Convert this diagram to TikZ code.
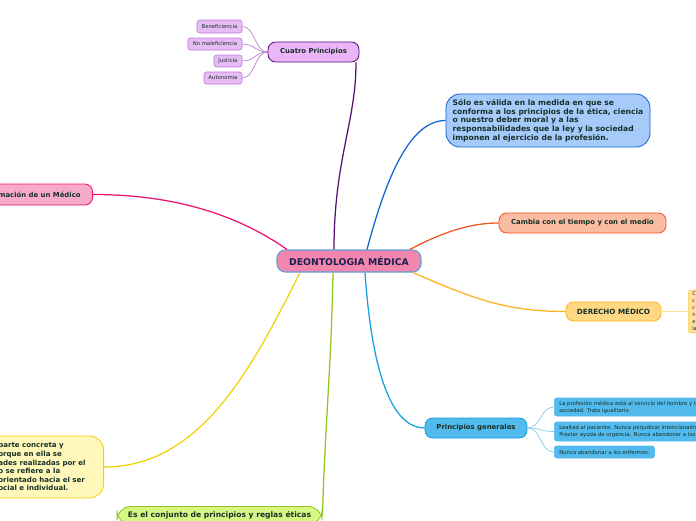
\documentclass[tikz,border=0pt]{standalone}
\usepackage{fontspec}
\setmainfont{DejaVu Sans}
\usetikzlibrary{calc}
\definecolor{ink}{RGB}{22,48,40}
\definecolor{rootink}{RGB}{28,30,80}
\definecolor{rootfill}{RGB}{242,134,174}
\definecolor{rootline}{RGB}{100,160,215}
\definecolor{cpfill}{RGB}{234,182,248}
\definecolor{cpline}{RGB}{88,18,112}
\definecolor{cpleaf}{RGB}{231,188,246}
\definecolor{cpleafline}{RGB}{190,125,212}
\definecolor{solofill}{RGB}{166,202,250}
\definecolor{sololine}{RGB}{20,100,210}
\definecolor{camfill}{RGB}{250,188,162}
\definecolor{camline}{RGB}{240,84,34}
\definecolor{derfill}{RGB}{255,216,132}
\definecolor{derline}{RGB}{252,178,30}
\definecolor{derleaf}{RGB}{255,224,152}
\definecolor{derleafline}{RGB}{250,204,90}
\definecolor{pgfill}{RGB}{82,186,236}
\definecolor{pgline}{RGB}{22,160,226}
\definecolor{pgtwig}{RGB}{128,204,242}
\definecolor{formfill}{RGB}{248,170,202}
\definecolor{formline}{RGB}{236,22,112}
\definecolor{yelfill}{RGB}{255,248,186}
\definecolor{yelline}{RGB}{240,210,10}
\definecolor{grfill}{RGB}{216,246,132}
\definecolor{grline}{RGB}{146,196,34}
\tikzset{
  rootbox/.style={draw=rootline, fill=rootfill, rounded corners=6pt, line width=0.8pt,
                  minimum width=3.6cm, minimum height=0.55cm, inner sep=0pt,
                  font=\fontsize{6.6}{7.5}\selectfont\bfseries, text=rootink},
  topic/.style={rounded corners=5.5pt, line width=0.6pt, inner sep=0pt, minimum height=0.5cm,
                font=\fontsize{4.9}{5.8}\selectfont\bfseries, text=ink},
  leaf/.style={rounded corners=1.8pt, line width=0.4pt, inner sep=0pt,
               font=\fontsize{3.8}{5}\selectfont, text=ink},
  para/.style={rounded corners=10pt, line width=0.6pt, align=left, inner ysep=0pt,
               font=\fontsize{5.4}{6.2}\selectfont\bfseries, text=ink},
  branch/.style={line width=0.9pt},
  twig/.style={line width=0.5pt},
}
\begin{document}
\begin{tikzpicture}[x=0.025cm, y=-0.025cm]
  \useasboundingbox (0,0) rectangle (696,520);
  \clip (0,0) rectangle (696,520);
  % centre
  \node[rootbox] (deo) at (349,261) {DEONTOLOGIA MÉDICA};
  % four principles
  \node[topic, draw=cpline, fill=cpfill, minimum width=2.275cm] (cuatro) at (313.5,52) {Cuatro Principios};
  \node[leaf, draw=cpleafline, fill=cpleaf, minimum width=1.125cm, minimum height=0.325cm] (benef) at (219.5,26.5) {Beneficiencia};
  \node[leaf, draw=cpleafline, fill=cpleaf, minimum width=1.35cm, minimum height=0.3cm] (nomal) at (215,44) {No maleficiencia};
  \node[leaf, draw=cpleafline, fill=cpleaf, minimum width=0.7cm, minimum height=0.3cm] (just) at (228,61) {Justicia};
  \node[leaf, draw=cpleafline, fill=cpleaf, minimum width=0.95cm, minimum height=0.3cm] (auton) at (223,78) {Autonomia};
  \foreach \n in {benef,nomal,just,auton}
    \draw[twig, cpleafline] (cuatro.west) .. controls +(-13,0) and +(13,0) .. (\n.east);
  \draw[branch, cpline] ($(deo.north)+(-15,0)$) .. controls +(0,-90) and +(0,60) .. ($(cuatro.south)+(42.5,0)$);
  % only valid
  \node[para, draw=sololine, fill=solofill, minimum width=5.1cm,
        minimum height=1.325cm] (solo) at (548,120.5)
       {Sólo es válida en la medida en que se\\
        conforma a los principios de la ética, ciencia\\
        o nuestro deber moral y a las\\
        responsabilidades que la ley y la sociedad\\
        imponen al ejercicio de la profesión.};
  \draw[branch, sololine] ($(deo.north)+(18,0)$) .. controls +(20,-75) and +(-35,0) .. (solo.west);
  % changes
  \node[topic, draw=camline, fill=camfill, minimum width=4.175cm] (cambia) at (582.5,223) {Cambia con el tiempo y con el medio};
  \draw[branch, camline] ($(deo.north)+(61,0)$) .. controls +(30,-16) and +(-30,0) .. (cambia.west);
  % medical law
  \node[topic, draw=derline, fill=derfill, minimum width=2.375cm, minimum height=0.475cm,
        font=\fontsize{5.1}{6}\selectfont\bfseries] (derecho) at (613.5,311.5) {DERECHO MÉDICO};
  \node[leaf, draw=derleafline, fill=derleaf, anchor=west, minimum height=1.075cm,
        inner xsep=0.1cm, text width=2.3cm, align=left, font=\fontsize{3.6}{5}\selectfont] (derdef) at (688,311.5)
       {C\\c\\c\\n\\e\\la};
  \draw[twig, derleaf] (derecho.east) -- (derdef.west);
  \draw[branch, derline] ($(deo.south)+(64,0)$) .. controls +(60,26) and +(-60,0) .. (derecho.west);
  % general principles
  \node[topic, draw=pgline, fill=pgfill, minimum width=2.55cm] (princ) at (476,428) {Principios generales};
  \node[leaf, draw=pgfill, fill=pgfill, anchor=west, minimum height=0.45cm, inner xsep=0.125cm,
        align=left] (servicio) at (554,407)
       {La profesión médica está al servicio del hombre y la\\sociedad. Trato igualitario.};
  \node[leaf, draw=pgfill, fill=pgfill, anchor=west, minimum height=0.475cm, inner xsep=0.125cm,
        align=left] (lealtad) at (554,431.5)
       {Lealtad al paciente. Nunca perjudicar intencionalmente.\\Prestar ayuda de urgencia. Nunca abandonar a los};
  \node[leaf, draw=pgfill, fill=pgfill, anchor=west, minimum height=0.3cm,
        inner xsep=0.125cm] (nunca) at (554,452) {Nunca abandonar a los enfermos.};
  \foreach \n in {servicio,lealtad,nunca}
    \draw[twig, pgtwig] (princ.east) .. controls +(14,0) and +(-14,0) .. (\n.west);
  \draw[branch, pgline] ($(deo.south)+(16,0)$) .. controls +(8,115) and +(-28,0) .. (princ.west);
  % training
  \node[topic, draw=formline, fill=formfill, minimum height=0.525cm, anchor=east,
        inner xsep=0.3cm] (formacion) at (93,194.5) {mación de un Médico};
  \draw[branch, formline] ($(deo.north)+(-62,0)$) .. controls +(-60,-42) and +(65,0) .. (formacion.east);
  % concrete part
  \node[para, draw=yelline, fill=yelfill, anchor=east, inner xsep=0.45cm,
        minimum height=1.55cm, font=\fontsize{5}{6.1}\selectfont\bfseries] (parte) at (104,467)
       {parte concreta y\\
        orque en ella se\\
        ades realizadas por el\\
        o se refiere a la\\
        orientado hacia el ser\\
        ocial e individual.};
  \draw[branch, yelline] ($(deo.south)+(-49,0)$) .. controls +(-50,100) and +(95,0) .. (parte.east);
  % set of rules
  \node[para, draw=grline, fill=grfill, anchor=north, inner ysep=0.13cm, minimum width=5.125cm,
        font=\fontsize{5.4}{6.2}\selectfont\bfseries] (conjunto) at (219.5,506)
       {Es el conjunto de principios y reglas éticas};
  \draw[branch, grline] ($(deo.south)+(-16,0)$) .. controls +(-2,100) and +(3,-100) .. (conjunto.east);
\end{tikzpicture}
\end{document}
